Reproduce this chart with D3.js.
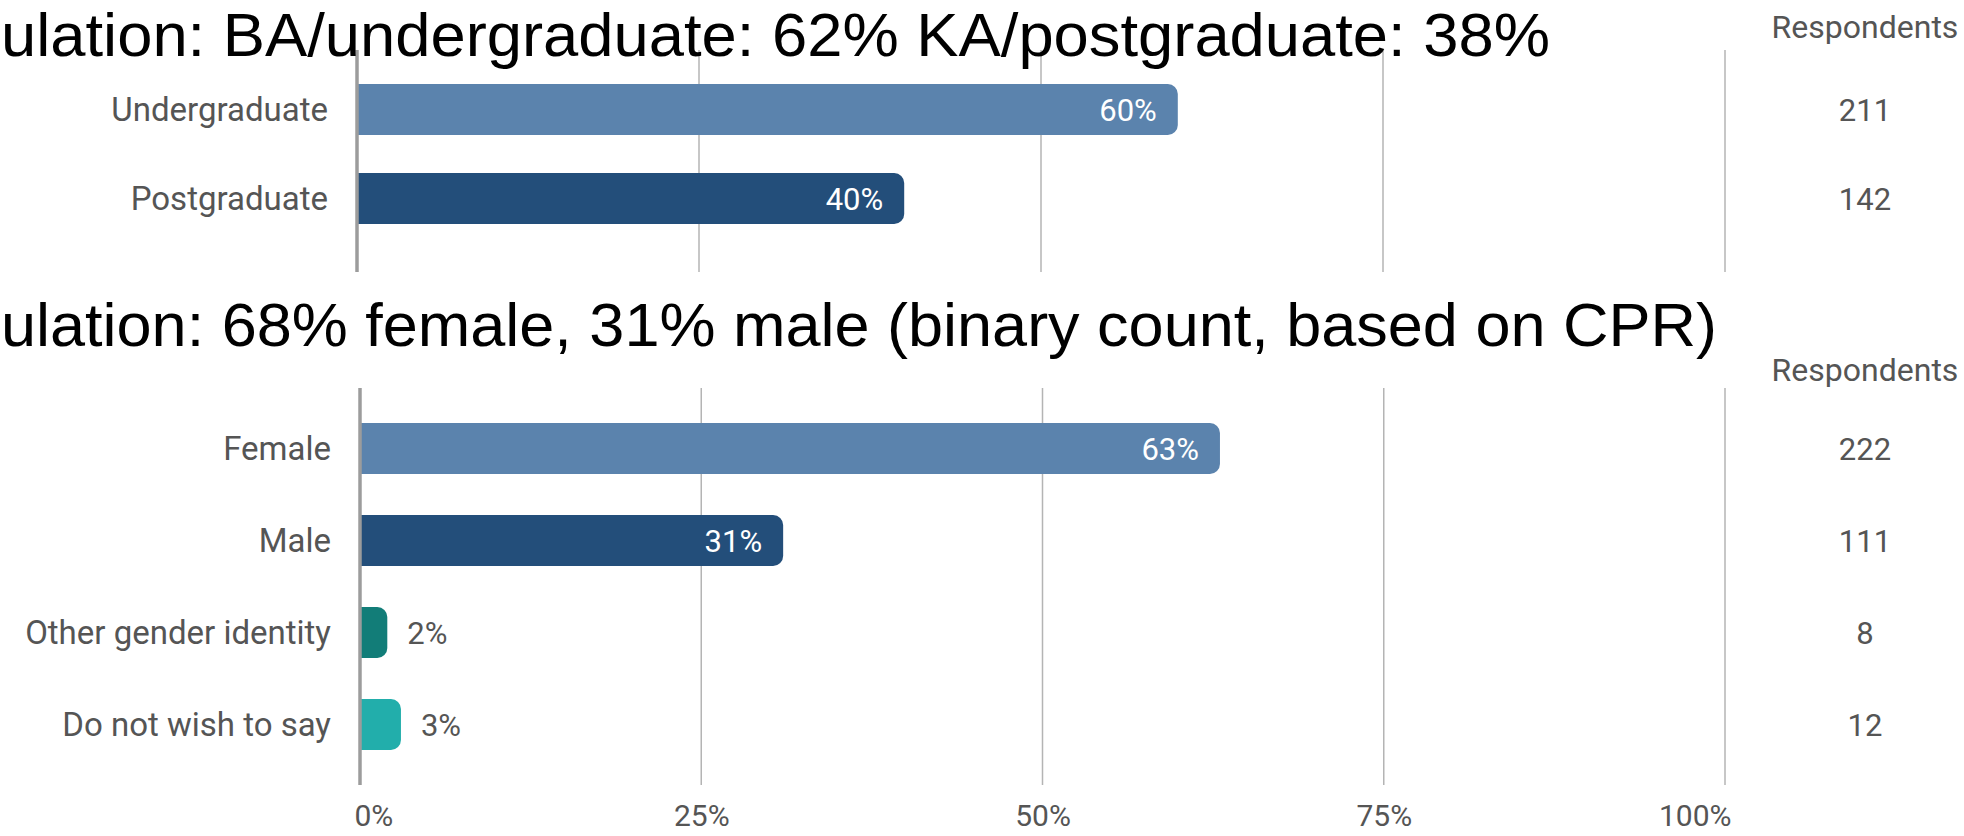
<!DOCTYPE html>
<html><head><meta charset="utf-8">
<script src="https://cdn.jsdelivr.net/npm/d3@7"></script>
<style>
html,body{margin:0;padding:0;background:#fff;overflow:hidden}
svg{display:block}
</style></head><body>
<svg id="chart" width="1964" height="836"></svg>
<script>
// ---- data ----
const titles = [
  "ulation: BA/undergraduate: 62% KA/postgraduate: 38%",
  "ulation: 68% female, 31% male (binary count, based on CPR)"
];
const respondentsHeader = "Respondents";
const eduCategories = ["Undergraduate", "Postgraduate"];
const eduValues = [60, 40];
const eduRespondents = [211, 142];
const genderCategories = ["Female", "Male", "Other gender identity", "Do not wish to say"];
const genderValues = [63, 31, 2, 3];
const genderRespondents = [222, 111, 8, 12];
const tickValues = [0, 25, 50, 75, 100];

// ---- styles / layout ----
const eduColors = ["#5b83ad", "#234e7a"];
const genderColors = ["#5b83ad", "#234e7a", "#127d78", "#22aeab"];
const labelColor = "#555555";
const fontRoboto = "Roboto, 'Noto Sans', sans-serif";
const titleLayout = [{y: 56, len: 1549}, {y: 346, len: 1716}];

const svg = d3.select("#chart");

function roundedRight(x0, y0, w, h, r) {
  r = Math.max(0, Math.min(r, w, h / 2));
  return `M${x0},${y0}H${x0 + w - r}A${r},${r} 0 0 1 ${x0 + w},${y0 + r}V${y0 + h - r}A${r},${r} 0 0 1 ${x0 + w - r},${y0 + h}H${x0}Z`;
}

function panel(cfg) {
  const g = svg.append("g");
  const x = d3.scaleLinear().domain([0, 100]).range([cfg.x0, cfg.x1]);
  const y = d3.scaleBand().domain(cfg.categories)
    .range([cfg.yTop, cfg.yTop + cfg.step * cfg.categories.length])
    .paddingInner(cfg.padIn).paddingOuter(cfg.padIn / 2);
  const rows = cfg.categories.map((c, i) => ({c, v: cfg.values[i], n: cfg.respondents[i], col: cfg.colors[i]}));

  // gridlines
  g.append("g").selectAll("line").data(tickValues.filter(t => t > 0)).join("line")
    .attr("x1", d => x(d)).attr("x2", d => x(d))
    .attr("y1", cfg.gridTop).attr("y2", cfg.gridBottom)
    .attr("stroke", "#b4b4b4").attr("stroke-width", 1.5);

  // bars
  g.append("g").selectAll("path").data(rows).join("path")
    .attr("d", d => roundedRight(x(0), y(d.c), x(d.v) - x(0), y.bandwidth(), 10))
    .attr("fill", d => d.col);

  // zero axis line
  g.append("line")
    .attr("x1", x(0)).attr("x2", x(0))
    .attr("y1", cfg.gridTop).attr("y2", cfg.gridBottom)
    .attr("stroke", "#9c9c9c").attr("stroke-width", 3.5);

  // category labels
  g.append("g").selectAll("text").data(rows).join("text")
    .attr("x", x(0) - 29)
    .attr("y", d => y(d.c) + y.bandwidth() / 2 + 0.355 * 33)
    .attr("text-anchor", "end")
    .attr("font-family", fontRoboto).attr("font-size", 33)
    .attr("fill", labelColor).text(d => d.c);

  // value labels
  g.append("g").selectAll("text").data(rows).join("text")
    .attr("x", d => d.v >= 10 ? x(d.v) - 21 : x(d.v) + 20)
    .attr("y", d => y(d.c) + y.bandwidth() / 2 + 0.355 * 31)
    .attr("text-anchor", d => d.v >= 10 ? "end" : "start")
    .attr("font-family", fontRoboto).attr("font-size", 31)
    .attr("fill", d => d.v >= 10 ? "#ffffff" : labelColor)
    .text(d => d.v + "%");

  // respondents header + counts
  g.append("text")
    .attr("x", cfg.respX).attr("y", cfg.headerY)
    .attr("text-anchor", "middle")
    .attr("font-family", fontRoboto).attr("font-size", 32)
    .attr("fill", labelColor).text(respondentsHeader);
  g.append("g").selectAll("text").data(rows).join("text")
    .attr("x", cfg.respX)
    .attr("y", d => y(d.c) + y.bandwidth() / 2 + 0.355 * 31)
    .attr("text-anchor", "middle")
    .attr("font-family", fontRoboto).attr("font-size", 31)
    .attr("fill", labelColor).text(d => d.n);

  // x axis tick labels
  if (cfg.showTicks) {
    const axis = d3.axisBottom(x).tickValues(tickValues).tickSize(0).tickPadding(0)
      .tickFormat(d => d + "%");
    const ag = g.append("g").attr("transform", `translate(0,${cfg.tickY})`).call(axis);
    ag.select(".domain").remove();
    ag.selectAll("text")
      .attr("font-family", fontRoboto).attr("font-size", 30)
      .attr("fill", labelColor).attr("dy", 0).attr("y", 0)
      .attr("text-anchor", (d, i) => i === 0 ? "start" : (i === tickValues.length - 1 ? "end" : "middle"))
      .attr("dx", (d, i) => i === 0 ? -6 : (i === tickValues.length - 1 ? 6 : 0));
  }
  return g;
}

// titles (overlaid, cut on the left in the source)
svg.append("g").selectAll("text").data(titles).join("text")
  .attr("x", 1)
  .attr("y", (d, i) => titleLayout[i].y)
  .attr("textLength", (d, i) => titleLayout[i].len)
  .attr("lengthAdjust", "spacingAndGlyphs")
  .attr("font-family", "'Liberation Sans', Arial, sans-serif")
  .attr("font-size", 61)
  .attr("fill", "#000").text(d => d);

panel({
  categories: eduCategories, values: eduValues, respondents: eduRespondents, colors: eduColors,
  x0: 357, x1: 1725, yTop: 65, step: 89, padIn: 0.427,
  gridTop: 50, gridBottom: 272, respX: 1865, headerY: 38, showTicks: false
});
panel({
  categories: genderCategories, values: genderValues, respondents: genderRespondents, colors: genderColors,
  x0: 360, x1: 1725, yTop: 402.5, step: 92, padIn: 0.446,
  gridTop: 388, gridBottom: 785, respX: 1865, headerY: 381, showTicks: true, tickY: 826
});

// bring titles on top
svg.select("g").raise();
</script>
</body></html>
